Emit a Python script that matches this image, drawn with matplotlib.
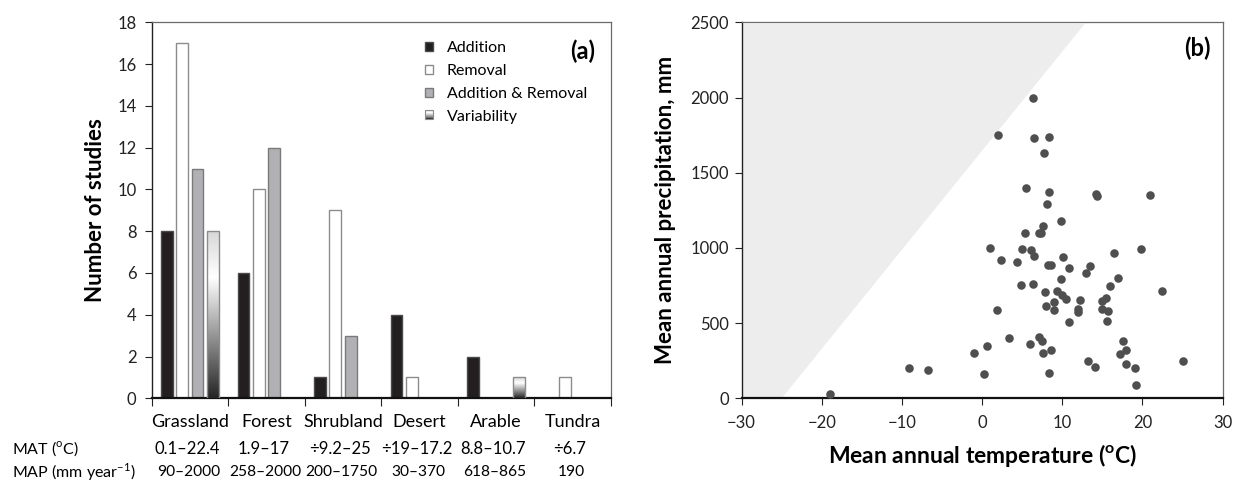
import numpy as np
import matplotlib
matplotlib.use("Agg")
import matplotlib.pyplot as plt
from matplotlib.patches import Rectangle, Patch, Polygon
from matplotlib.legend_handler import HandlerBase
from matplotlib.colors import LinearSegmentedColormap
import matplotlib.transforms as mtransforms

plt.rcParams["font.family"] = ["Lato", "DejaVu Sans"]
plt.rcParams["mathtext.fontset"] = "custom"
plt.rcParams["mathtext.rm"] = "Lato"

# panel (a) data
habitats = ["Grassland", "Forest", "Shrubland", "Desert", "Arable", "Tundra"]
mat_range = ["0.1–22.4", "1.9–17", "÷9.2–25", "÷19–17.2", "8.8–10.7", "÷6.7"]
map_range = ["90–2000", "258–2000", "200–1750", "30–370", "618–865", "190"]
addition = [8, 6, 1, 4, 2, 0]
removal = [17, 10, 9, 1, 0, 1]
add_rem = [11, 12, 3, 0, 0, 0]
variability = [8, 0, 0, 0, 1, 0]

# panel (b) data: mean annual temperature (C) and precipitation (mm)
mat = [6.3, 2.0, 6.5, 8.3, 7.7, 5.5, 8.3, 8.1, 14.2, 14.3, 21.0, 9.8, 7.6,
       7.1, 7.3, 5.3, 1.0, 5.0, 6.1, 6.5, 19.8, 16.4, 2.4, 4.4, 10.1, 8.2,
       8.6, 10.8, 13.5, 13.0, 9.8, 17.0, 4.8, 6.3, 16.0, 7.8, 9.3, 10.0,
       10.4, 22.4, 12.2, 15.0, 15.5, 9.0, 8.0, 9.0, 11.9, 11.9, 15.0, 15.7,
       1.9, 10.8, 15.6, 7.1, 7.5, 3.3, 6.0, 0.6, 8.6, 7.6, 17.6, 18.0, 17.2,
       -1.0, 13.2, 14.1, 18.0, 19.1, 19.2, 25.0, -9.1, -6.7, 0.2, 8.4, -19.0]
map_mm = [2000, 1750, 1733, 1740, 1631, 1400, 1369, 1291, 1358, 1345, 1351,
          1178, 1144, 1102, 1102, 1100, 1000, 993, 989, 947, 991, 967, 920,
          907, 940, 889, 889, 864, 882, 836, 793, 800, 756, 762, 749, 707,
          711, 684, 658, 716, 651, 647, 667, 640, 613, 589, 596, 573, 591,
          578, 587, 509, 511, 411, 384, 398, 364, 349, 322, 300, 384, 324,
          298, 304, 251, 211, 229, 200, 89, 249, 200, 189, 162, 169, 29]

fig = plt.figure(figsize=(12.34, 4.83), dpi=100)
ax1 = fig.add_axes([0.1229, 0.1753, 0.372, 0.7785])
ax2 = fig.add_axes([0.601, 0.1753, 0.3898, 0.7785])

grad_cmap = LinearSegmentedColormap.from_list(
    "var", [(0, "#262626"), (0.72, "#ffffff"), (1.0, "#d6d6d6")])

series = [
    (addition, "Addition", "#231f20", "#4a4a4a"),
    (removal, "Removal", "#ffffff", "#8c8c8c"),
    (add_rem, "Addition & Removal", "#b1b1b5", "#7a7a7a"),
]
width = 0.155
offsets = [0.2, 0.4, 0.6, 0.8]
x0 = np.arange(len(habitats))
for k, (vals, name, fc, ec) in enumerate(series):
    ax1.bar(x0 + offsets[k], vals, width, color=fc, edgecolor=ec,
            linewidth=1.0, zorder=2)

grad = np.linspace(0, 1, 256).reshape(-1, 1)
for xi, v in zip(x0 + offsets[3], variability):
    if v <= 0:
        continue
    bar = ax1.bar(xi, v, width, color="none", edgecolor="#8c8c8c",
                  linewidth=1.0, zorder=3)[0]
    im = ax1.imshow(grad, cmap=grad_cmap, origin="lower", aspect="auto",
                    extent=(xi - width / 2, xi + width / 2, 0, v), zorder=2)
    im.set_clip_path(bar)

ax1.set_xlim(0, 6)
ax1.set_ylim(0, 18)
ax1.set_yticks(range(0, 19, 2))
ax1.set_xticks(range(0, 7))
ax1.set_xticklabels([])
ax1.set_xticks(x0 + 0.5, minor=True)
ax1.set_xticklabels(habitats, minor=True)
ax1.tick_params(axis="x", which="minor", length=0, pad=11, labelsize=13)
ax1.tick_params(axis="x", which="major", length=6, direction="out")
ax1.tick_params(axis="y", length=5, direction="out", labelsize=12, pad=6)
ax1.set_ylabel("Number of studies", fontsize=16, fontweight="bold")
ax1.yaxis.set_label_coords(-0.1, 0.5)

trans = mtransforms.blended_transform_factory(ax1.transData, ax1.transAxes)
for xi, a, b in zip(x0 + 0.5, mat_range, map_range):
    ax1.text(xi - 0.04, -0.134, a, transform=trans, ha="center",
             va="center", fontsize=12)
    ax1.text(xi - 0.02, -0.195, b, transform=trans, ha="center",
             va="center", fontsize=11.2)
fig.text(12 / 1234, 1 - 449 / 483, "MAT ($^{\\mathregular{o}}$C)",
         ha="left", va="center", fontsize=11.5)
fig.text(12 / 1234, 1 - 472 / 483, "MAP (mm year$^{\\mathregular{-1}}$)",
         ha="left", va="center", fontsize=11.5)


class GradientHandler(HandlerBase):
    def create_artists(self, legend, orig_handle, xdescent, ydescent,
                       width, height, fontsize, trans):
        arts = []
        n = 10
        for i in range(n):
            c = grad_cmap((i + 0.5) / n)
            r = Rectangle((-xdescent, -ydescent + height * i / n), width,
                          height / n, facecolor=c, edgecolor="none",
                          transform=trans)
            arts.append(r)
        arts.append(Rectangle((-xdescent, -ydescent), width, height,
                              facecolor="none", edgecolor="#8c8c8c",
                              linewidth=0.8, transform=trans))
        return arts


handles = [Patch(facecolor=fc, edgecolor=ec) for _, _, fc, ec in series]
handles.append(Patch(facecolor="#bbbbbb"))
labels = [s[1] for s in series] + ["Variability"]
leg = ax1.legend(handles, labels, loc="upper left",
                 bbox_to_anchor=(0.565, 0.988), frameon=False, fontsize=11.5,
                 handlelength=0.48, handleheight=0.48, handletextpad=0.85,
                 labelspacing=0.55,
                 handler_map={handles[3]: GradientHandler()})
ax1.text(0.966, 0.955, "(a)", transform=ax1.transAxes, ha="right",
         va="top", fontsize=17, fontweight="bold")

# panel (b)
wedge = Polygon([(-30, 0), (-25, 0), (12.8, 2490), (-30, 2490)],
                closed=True, facecolor="#ededed", edgecolor="none", zorder=1)
ax2.add_patch(wedge)
ax2.scatter(mat, map_mm, s=38, color="#4f4f4f", zorder=3, linewidths=0)
ax2.set_xlim(-30, 30)
ax2.set_ylim(0, 2500)
ax2.set_xticks(range(-30, 31, 10))
ax2.set_yticks(range(0, 2501, 500))
ax2.tick_params(axis="both", labelsize=12)
ax2.tick_params(axis="x", length=5, direction="out", pad=7)
ax2.tick_params(axis="y", length=5, direction="out", pad=4)
ax2.set_xlabel("Mean annual temperature ($^{\\mathregular{o}}$C)",
               fontsize=16.5, fontweight="bold")
ax2.xaxis.set_label_coords(0.5, -0.117)
ax2.set_ylabel("Mean annual precipitation, mm", fontsize=16,
               fontweight="bold")
ax2.yaxis.set_label_coords(-0.137, 0.5)
ax2.text(0.974, 0.962, "(b)", transform=ax2.transAxes, ha="right",
         va="top", fontsize=17, fontweight="bold")

for ax in (ax1, ax2):
    ax.spines["top"].set_color("#6a6a6a")
    ax.spines["right"].set_color("#6a6a6a")
    ax.spines["top"].set_linewidth(0.9)
    ax.spines["right"].set_linewidth(0.9)
    ax.spines["left"].set_color("#222222")
    ax.spines["left"].set_linewidth(1.0)
    ax.spines["bottom"].set_color("#111111")
    ax.spines["bottom"].set_linewidth(1.6)
    ax.tick_params(colors="#222222", labelcolor="#222222")

fig.savefig("out.png", dpi=100)
